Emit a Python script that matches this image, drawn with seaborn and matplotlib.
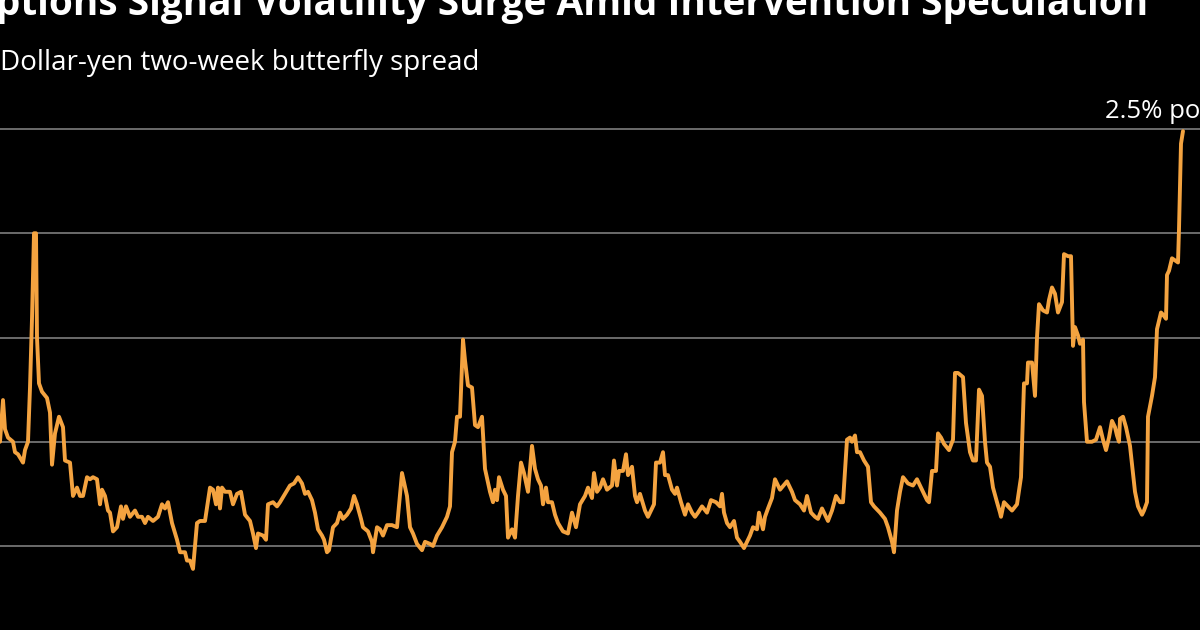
import numpy as np
import pandas as pd
import matplotlib
matplotlib.use("Agg")
import matplotlib.pyplot as plt
import seaborn as sns

# ---- data (day offset, butterfly spread in % points) ----
day_a = [0, 3, 5, 8, 13, 15, 18, 23, 25, 28, 30, 32, 34, 36, 37, 39, 42, 47, 50, 52,
         55, 59, 63, 65, 70, 73, 77, 80, 83, 87, 90, 93, 97, 100, 102, 105, 108, 110, 113, 117,
         121, 123, 126, 130, 135, 138, 142, 145, 148, 153, 158, 162, 165, 168, 172, 177, 180, 185, 187, 190,
         193, 197, 200]
val_a = [1.00, 1.20, 1.06, 1.02, 1.00, 0.95, 0.94, 0.90, 0.96, 1.00, 1.26, 1.59, 2.00, 2.00, 1.50, 1.28, 1.24, 1.21, 1.14, 0.89,
         1.04, 1.12, 1.07, 0.91, 0.90, 0.74, 0.78, 0.74, 0.74, 0.83, 0.82, 0.83, 0.82, 0.70, 0.77, 0.74, 0.67, 0.66, 0.57, 0.59,
         0.69, 0.63, 0.69, 0.64, 0.67, 0.64, 0.64, 0.61, 0.64, 0.62, 0.64, 0.70, 0.68, 0.71, 0.61, 0.53, 0.47, 0.47, 0.43, 0.43,
         0.39, 0.61, 0.62]

day_b = [205, 210, 213, 216, 218, 220, 222, 225, 230, 233, 237, 241, 245, 250, 253, 256, 258, 263, 266, 268,
         273, 277, 280, 285, 290, 294, 298, 302, 305, 308, 312, 315, 318, 322, 324, 327, 329, 333, 337, 340,
         343, 347, 351, 354, 357, 361, 363, 368, 372, 373, 377, 380, 383, 387, 392, 397]
val_b = [0.62, 0.78, 0.77, 0.70, 0.78, 0.68, 0.78, 0.76, 0.76, 0.70, 0.75, 0.76, 0.65, 0.62, 0.56, 0.49, 0.56, 0.55, 0.53, 0.70,
         0.71, 0.69, 0.71, 0.75, 0.79, 0.80, 0.83, 0.80, 0.75, 0.76, 0.72, 0.66, 0.58, 0.55, 0.53, 0.47, 0.48, 0.59, 0.61, 0.66,
         0.63, 0.65, 0.68, 0.74, 0.70, 0.63, 0.59, 0.57, 0.52, 0.47, 0.59, 0.58, 0.55, 0.60, 0.60, 0.59]

day_c = [402, 407, 410, 413, 417, 422, 425, 430, 433, 437, 442, 447, 450, 452, 455, 457, 460, 463, 465, 468,
         472, 475, 478, 482, 485, 490, 493, 495, 497, 499, 503, 506, 508, 512, 515, 518, 521, 524, 528, 532,
         535, 538, 541, 543, 546, 548, 552, 555, 558, 563, 568, 572, 576, 580, 585, 588, 592, 594, 597, 600]
val_c = [0.85, 0.74, 0.59, 0.56, 0.51, 0.48, 0.52, 0.51, 0.50, 0.55, 0.59, 0.64, 0.69, 0.95, 1.00, 1.12, 1.12, 1.49, 1.39, 1.27,
         1.26, 1.08, 1.07, 1.12, 0.87, 0.76, 0.71, 0.77, 0.72, 0.83, 0.77, 0.74, 0.54, 0.58, 0.54, 0.74, 0.90, 0.85, 0.76, 0.98,
         0.87, 0.82, 0.79, 0.70, 0.78, 0.71, 0.71, 0.65, 0.61, 0.57, 0.56, 0.66, 0.59, 0.70, 0.74, 0.78, 0.73, 0.85, 0.76, 0.78]

day_d = [603, 607, 612, 614, 617, 619, 623, 626, 628, 632, 635, 637, 640, 645, 648, 652, 654, 656, 660, 663,
         665, 668, 672, 675, 677, 681, 685, 688, 692, 695, 698, 702, 707, 711, 716, 720, 722, 724, 727, 730,
         734, 737, 740, 744, 747, 750, 753, 757, 759, 763, 765, 768, 772, 775, 780, 787, 792, 795, 800]
val_d = [0.82, 0.77, 0.79, 0.91, 0.79, 0.86, 0.86, 0.94, 0.84, 0.88, 0.74, 0.71, 0.75, 0.67, 0.64, 0.68, 0.70, 0.90, 0.90, 0.95,
         0.84, 0.84, 0.77, 0.75, 0.78, 0.71, 0.65, 0.70, 0.66, 0.64, 0.66, 0.69, 0.66, 0.72, 0.71, 0.69, 0.75, 0.66, 0.61, 0.59,
         0.62, 0.54, 0.52, 0.49, 0.52, 0.55, 0.59, 0.58, 0.66, 0.58, 0.64, 0.68, 0.73, 0.82, 0.77, 0.81, 0.76, 0.72, 0.70]

day_e = [804, 807, 811, 815, 818, 822, 825, 828, 832, 836, 840, 843, 847, 850, 852, 855, 857, 860, 864, 868,
         871, 874, 880, 885, 888, 892, 894, 897, 900, 903, 908, 913, 917, 920, 923, 927, 929, 932, 936, 938,
         941, 944, 949, 953, 955, 958, 963, 966, 970, 973, 976, 979, 982, 985, 987, 990, 993, 997, 1000]
val_e = [0.67, 0.74, 0.66, 0.64, 0.63, 0.68, 0.65, 0.62, 0.67, 0.74, 0.71, 0.71, 1.01, 1.02, 1.00, 1.03, 0.95, 0.95, 0.91, 0.88,
         0.71, 0.69, 0.66, 0.63, 0.59, 0.52, 0.47, 0.67, 0.76, 0.83, 0.80, 0.79, 0.82, 0.79, 0.76, 0.72, 0.71, 0.86, 0.86, 1.04,
         1.02, 0.99, 0.96, 1.01, 1.33, 1.33, 1.31, 1.09, 0.95, 0.91, 0.91, 1.25, 1.22, 1.00, 0.90, 0.88, 0.78, 0.71, 0.66]

day_f = [1001, 1004, 1008, 1012, 1017, 1021, 1023, 1024, 1027, 1028, 1032, 1035, 1037, 1039, 1043, 1047, 1049, 1052, 1055, 1058,
         1062, 1064, 1068, 1071, 1073, 1075, 1078, 1080, 1083, 1084, 1087, 1092, 1096, 1100, 1103, 1106, 1109, 1112, 1115, 1117,
         1119, 1120, 1123, 1126, 1130, 1132, 1135, 1138, 1142, 1144, 1147, 1148, 1152, 1155, 1157, 1161, 1163, 1166, 1167, 1169,
         1172, 1175, 1178, 1179, 1181, 1183]
val_f = [0.64, 0.71, 0.69, 0.67, 0.70, 0.83, 1.14, 1.28, 1.28, 1.38, 1.38, 1.22, 1.50, 1.66, 1.63, 1.62, 1.68, 1.74, 1.71, 1.62,
         1.67, 1.90, 1.89, 1.89, 1.46, 1.55, 1.51, 1.47, 1.49, 1.19, 1.00, 1.00, 1.01, 1.07, 1.01, 0.96, 1.02, 1.10, 1.07, 1.03,
         1.00, 1.11, 1.12, 1.07, 0.98, 0.89, 0.76, 0.69, 0.65, 0.67, 0.71, 1.12, 1.22, 1.31, 1.54, 1.62, 1.61, 1.59, 1.80, 1.82,
         1.88, 1.87, 1.86, 2.02, 2.43, 2.49]

grid_levels = [0.5, 1.0, 1.5, 2.0, 2.5]
title = "Options Signal Volatility Surge Amid Intervention Speculation"
subtitle = "Dollar-yen two-week butterfly spread"
unit_label = "2.5% points"

df = pd.DataFrame({
    "day": day_a + day_b + day_c + day_d + day_e + day_f,
    "spread": val_a + val_b + val_c + val_d + val_e + val_f,
})

# ---- style ----
sns.set_theme(style="dark")
plt.rcParams["font.family"] = ["Open Sans", "DejaVu Sans"]
BG = "#000000"
LINE = "#F4A340"
GRID = "#6b6b6b"

W, H = 1200, 630
fig = plt.figure(figsize=(W / 100, H / 100), dpi=100, facecolor=BG)
ax = fig.add_axes([0, 0, 1, 1])
ax.set_facecolor(BG)

sns.lineplot(data=df, x="day", y="spread", ax=ax, color=LINE, linewidth=2.8,
             estimator=None, sort=True, zorder=3)
for ln in ax.get_lines():
    ln.set_solid_joinstyle("round")
    ln.set_solid_capstyle("round")

ax.set_xlim(0, 1200)
ax.set_ylim(0.097, 3.119)
ax.set_yticks(grid_levels)
ax.set_xticks([])
ax.yaxis.grid(True, color=GRID, linewidth=1.4, zorder=1)
ax.xaxis.grid(False)
ax.tick_params(axis="y", length=0, labelleft=False)
ax.set_xlabel("")
ax.set_ylabel("")
for s in ax.spines.values():
    s.set_visible(False)

renderer = fig.canvas.get_renderer()

def fit_size(text, target_px, weight="normal"):
    t = fig.text(0, 0, text, fontsize=20, fontweight=weight)
    w = t.get_window_extent(renderer).width
    t.remove()
    return 20 * target_px / w

# title (clipped by the top edge, like the reference crop)
ts = fit_size(title[2:], 1128, weight="bold")
fig.text(1148 / W, 1 - 15 / H, title, fontsize=ts, fontweight="bold",
         color="white", ha="right", va="baseline")

# subtitle
ss = fit_size(subtitle, 478)
fig.text(0 / W, 1 - 70 / H, subtitle, fontsize=ss, color="white",
         ha="left", va="baseline")

# unit label at the top gridline
fig.text(1105 / W, 1 - 118 / H, unit_label, fontsize=ss * 0.93, color="white",
         ha="left", va="baseline")

fig.savefig("out.png", dpi=100, facecolor=BG)
